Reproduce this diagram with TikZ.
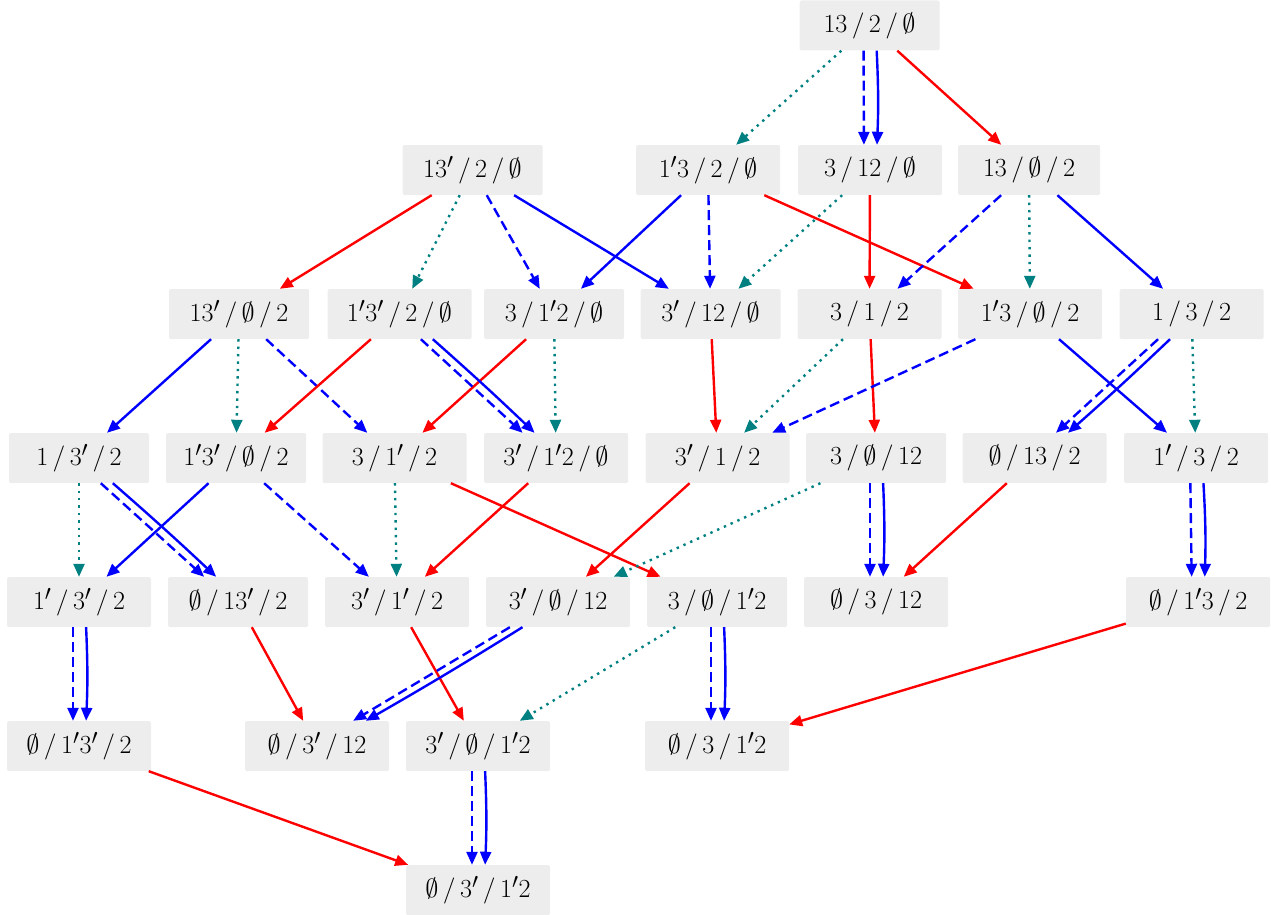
\documentclass[tikz,border=0pt]{standalone}
\usepackage{graphicx}
\usetikzlibrary{arrows.meta}
\definecolor{nodegray}{HTML}{EDEDED}
\definecolor{tealc}{HTML}{008080}
\newcommand\trip[3]{\scalebox{1.05}{$#1\,/\,#2\,/\,#3$}}
\tikzset{
  st/.style={fill=nodegray, rounded corners=1.5pt, minimum height=50pt, minimum width=144pt, inner sep=0pt, font=\Huge},
  nw/.style={minimum width=140pt},
  tipx/.style={-{Triangle[length=13pt,width=11pt]}},
  ered/.style={draw=red, line width=2.4pt, tipx},
  eblue/.style={draw=blue, line width=2.4pt, tipx},
  edash/.style={draw=blue, line width=2.4pt, dash pattern=on 10pt off 5pt, tipx},
  edot/.style={draw=tealc, line width=2.4pt, dash pattern=on 2.4pt off 5pt, tipx},
}
\begin{document}
\begin{tikzpicture}[x=1pt,y=-1pt]
\useasboundingbox (0,0) rectangle (1271,915);
% row 0
\node[st,nw] (a0) at (869.5,25.5) {\trip{13}{2}{\emptyset}};
% row 1
\node[st,nw] (b1) at (472.5,170) {\trip{13'}{2}{\emptyset}};
\node[st] (b2) at (708,170) {\trip{1'3}{2}{\emptyset}};
\node[st] (b3) at (870,170) {\trip{3}{12}{\emptyset}};
\node[st,minimum width=142pt] (b4) at (1029,170) {\trip{13}{\emptyset}{2}};
% row 2
\node[st,nw] (c1) at (239,314) {\trip{13'}{\emptyset}{2}};
\node[st] (c2) at (399.5,314) {\trip{1'3'}{2}{\emptyset}};
\node[st,nw] (c3) at (554,314) {\trip{3}{1'2}{\emptyset}};
\node[st,nw] (c4) at (710.5,314) {\trip{3'}{12}{\emptyset}};
\node[st] (c5) at (869.5,314) {\trip{3}{1}{2}};
\node[st] (c6) at (1030,314) {\trip{1'3}{\emptyset}{2}};
\node[st] (c7) at (1191.5,314) {\trip{1}{3}{2}};
% row 3
\node[st,nw] (d1) at (79,458) {\trip{1}{3'}{2}};
\node[st,nw] (d2) at (236,458) {\trip{1'3'}{\emptyset}{2}};
\node[st] (d3) at (394.5,458) {\trip{3}{1'}{2}};
\node[st] (d4) at (556,458) {\trip{3'}{1'2}{\emptyset}};
\node[st] (d5) at (717.5,458) {\trip{3'}{1}{2}};
\node[st,nw] (d6) at (876,458) {\trip{3}{\emptyset}{12}};
\node[st] (d7) at (1034.5,458) {\trip{\emptyset}{13}{2}};
\node[st] (d8) at (1196,458) {\trip{1'}{3}{2}};
% row 4
\node[st] (e1) at (79,602) {\trip{1'}{3'}{2}};
\node[st,nw] (e2) at (238,602) {\trip{\emptyset}{13'}{2}};
\node[st] (e3) at (397,602) {\trip{3'}{1'}{2}};
\node[st] (e4) at (558,602) {\trip{3'}{\emptyset}{12}};
\node[st,nw] (e5) at (717,602) {\trip{3}{\emptyset}{1'2}};
\node[st] (e6) at (876,602) {\trip{\emptyset}{3}{12}};
\node[st] (e7) at (1198,602) {\trip{\emptyset}{1'3}{2}};
% row 5
\node[st] (f1) at (79,746) {\trip{\emptyset}{1'3'}{2}};
\node[st] (f2) at (317,746) {\trip{\emptyset}{3'}{12}};
\node[st] (f3) at (478,746) {\trip{3'}{\emptyset}{1'2}};
\node[st] (f4) at (717,746) {\trip{\emptyset}{3}{1'2}};
% row 6
\node[st] (g1) at (478,890) {\trip{\emptyset}{3'}{1'2}};

% single edges
\draw[edot] (a0) -- (b2);
\draw[ered] (a0) -- (b4);
\draw[ered] (b1) -- (c1);
\draw[edot] (b1) -- (c2);
\draw[edash] (b1) -- (c3);
\draw[eblue] (b1) -- (c4);
\draw[eblue] (b2) -- (c3);
\draw[edash] (b2) -- (c4);
\draw[ered] (b2) -- (c6);
\draw[edot] (b3) -- (c4);
\draw[ered] (b3) -- (c5);
\draw[edash] (b4) -- (c5);
\draw[edot] (b4) -- (c6);
\draw[eblue] (b4) -- (c7);
\draw[eblue] (c1) -- (d1);
\draw[edot] (c1) -- (d2);
\draw[edash] (c1) -- (d3);
\draw[ered] (c2) -- (d2);
\draw[ered] (c3) -- (d3);
\draw[edot] (c3) -- (d4);
\draw[ered] (c4) -- (d5);
\draw[edot] (c5) -- (d5);
\draw[ered] (c5) -- (d6);
\draw[edash] (c6) -- (d5);
\draw[eblue] (c6) -- (d8);
\draw[edot] (c7) -- (d8);
\draw[edot] (d1) -- (e1);
\draw[eblue] (d2) -- (e1);
\draw[edash] (d2) -- (e3);
\draw[edot] (d3) -- (e3);
\draw[ered] (d3) -- (e5);
\draw[ered] (d4) -- (e3);
\draw[ered] (d5) -- (e4);
\draw[edot] (d6) -- (e4);
\draw[ered] (d7) -- (e6);
\draw[ered] (e2) -- (f2);
\draw[ered] (e3) -- (f3);
\draw[edot] (e5) -- (f3);
\draw[ered] (e7) -- (f4);
\draw[ered] (f1) -- (g1);

% double edges: vertical pairs
\foreach \s/\t in {a0/b3, d6/e6, d8/e7, e1/f1, e5/f4, f3/g1}{
  \draw[edash, transform canvas={xshift=-6pt}] (\s) -- (\t);
  \draw[eblue, transform canvas={xshift=6pt}] (\s) to[bend left=2.5] (\t);
}
% double edges: diagonal pairs
\foreach \s/\t in {c2/d4, c7/d7, d1/e2, e4/f2}{
  \draw[edash, transform canvas={xshift=-6pt}] (\s) -- (\t);
  \draw[eblue, transform canvas={xshift=5pt}] (\s) to[bend left=1] (\t);
}
\end{tikzpicture}
\end{document}
